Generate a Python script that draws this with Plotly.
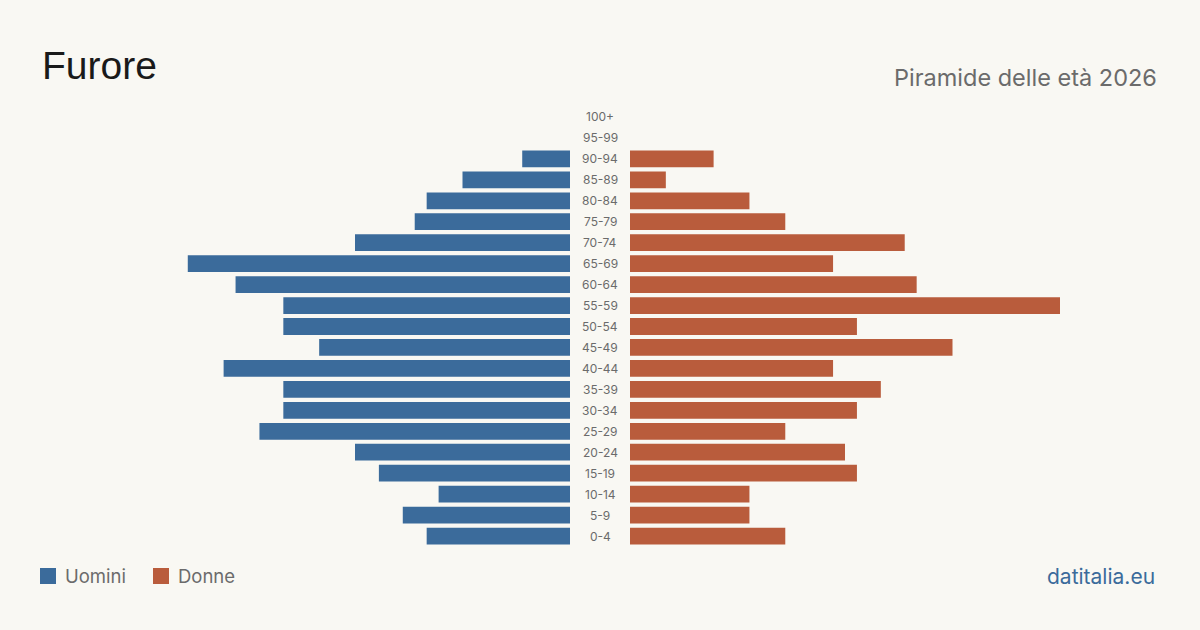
import plotly.graph_objects as go

age_groups = ["0-4", "5-9", "10-14", "15-19", "20-24", "25-29", "30-34", "35-39",
              "40-44", "45-49", "50-54", "55-59", "60-64", "65-69", "70-74",
              "75-79", "80-84", "85-89", "90-94", "95-99", "100+"]
men = [12, 14, 11, 16, 18, 26, 24, 24, 29, 21, 24, 24, 28, 32, 18, 13, 12, 9, 4, 0, 0]
women = [13, 10, 10, 19, 18, 13, 19, 21, 17, 27, 19, 36, 24, 17, 23, 13, 10, 3, 7, 0, 0]

BLUE = "#3b6b9b"
ORANGE = "#b95c3c"
BG = "#f9f8f3"

xmax = max(max(men), max(women))

fig = go.Figure()
fig.add_trace(go.Bar(y=age_groups, x=men, orientation="h", marker_color=BLUE,
                     marker_line_width=0,
                     width=0.8, xaxis="x", yaxis="y", name="Uomini", showlegend=False,
                     hoverinfo="skip"))
fig.add_trace(go.Bar(y=age_groups, x=women, orientation="h", marker_color=ORANGE,
                     marker_line_width=0,
                     width=0.8, xaxis="x2", yaxis="y", name="Donne", showlegend=False,
                     hoverinfo="skip"))

annotations = []
for g in age_groups:
    annotations.append(dict(x=0.5, xref="paper", y=g, yref="y", text=g,
                            showarrow=False, xanchor="center", yanchor="middle",
                            font=dict(family="Inter", size=12, color="#6b6b6b")))

annotations += [
    dict(x=40/1200, y=1-66/630, xref="paper", yref="paper", text="Furore",
         showarrow=False, xanchor="left", yanchor="middle",
         font=dict(family="Liberation Sans", size=39, color="#1a1a1a")),
    dict(x=1159/1200, y=1-77/630, xref="paper", yref="paper", text="Piramide delle età 2026",
         showarrow=False, xanchor="right", yanchor="middle",
         font=dict(family="Inter", size=23.5, color="#6b6b6b")),
    dict(x=63/1200, y=1-576/630, xref="paper", yref="paper", text="Uomini",
         showarrow=False, xanchor="left", yanchor="middle",
         font=dict(family="Inter", size=18.5, color="#6b6b6b")),
    dict(x=176/1200, y=1-576/630, xref="paper", yref="paper", text="Donne",
         showarrow=False, xanchor="left", yanchor="middle",
         font=dict(family="Inter", size=18.5, color="#6b6b6b")),
    dict(x=1157/1200, y=1-576/630, xref="paper", yref="paper", text="datitalia.eu",
         showarrow=False, xanchor="right", yanchor="middle",
         font=dict(family="Inter", size=21, color="#3b6b9b")),
]

shapes = [
    dict(type="rect", xref="paper", yref="paper", x0=40/1200, x1=56/1200,
         y0=1-584/630, y1=1-568/630, fillcolor=BLUE, line=dict(width=0)),
    dict(type="rect", xref="paper", yref="paper", x0=153/1200, x1=169/1200,
         y0=1-584/630, y1=1-568/630, fillcolor=ORANGE, line=dict(width=0)),
]

fig.update_layout(
    width=1200, height=630,
    margin=dict(l=0, r=0, t=0, b=0),
    paper_bgcolor=BG, plot_bgcolor=BG,
    xaxis=dict(domain=[140/1200, 570/1200], range=[xmax, 0], visible=False, fixedrange=True),
    xaxis2=dict(domain=[630/1200, 1060/1200], range=[0, xmax], visible=False, fixedrange=True),
    yaxis=dict(domain=[1-546.5/630, 1-106.5/630], categoryorder="array",
               categoryarray=age_groups, visible=False, range=[-0.5, len(age_groups)-0.5]),
    annotations=annotations, shapes=shapes, bargap=0.2,
)

fig.write_html("out.html")
